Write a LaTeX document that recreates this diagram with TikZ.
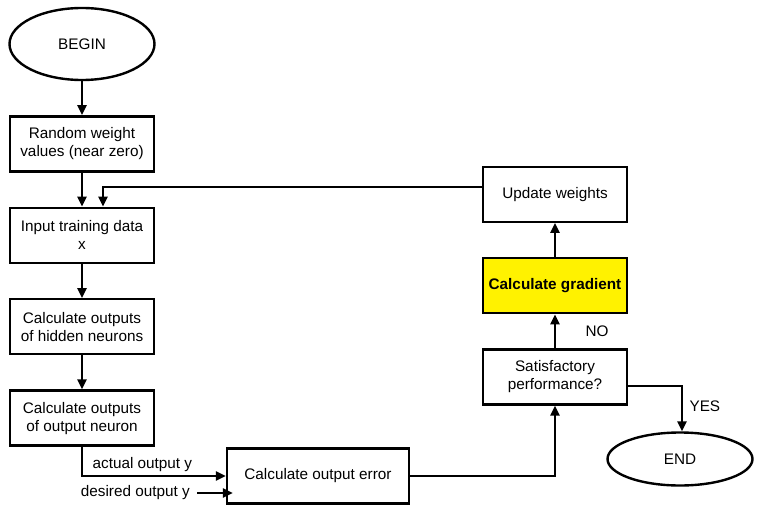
\documentclass[tikz,border=0pt]{standalone}
\usepackage{fontspec}
\setmainfont{Liberation Sans}
\usetikzlibrary{shapes.geometric, arrows.meta, positioning, calc}
\tikzstyle{block} = [rectangle, draw=black, line width=2.4pt, minimum width=144pt, minimum height=55pt, align=center, inner sep=2pt]
\tikzstyle{term} = [ellipse, draw=black, line width=2.4pt, minimum width=145pt, align=center]
\tikzstyle{hot} = [fill=yellow, font=\fontsize{15.3pt}{18pt}\selectfont\bfseries]
\tikzstyle{arrow} = [line width=2.4pt, -{Triangle[length=10pt,width=9pt]}]

\begin{document}
\begin{tikzpicture}[x=1pt, y=-1pt, node distance=34pt, every node/.style={font=\fontsize{15.3pt}{18pt}\selectfont}]
  \useasboundingbox (0,0) rectangle (759,511);

  % Left column
  \node[term, minimum height=72pt] (begin) at (82,44) {BEGIN};
  \node[block, below=of begin] (init) {Random weight\\values (near zero)};
  \node[block, below=of init] (input) {Input training data\\x};
  \node[block, below=of input] (hidden) {Calculate outputs\\of hidden neurons};
  \node[block, below=of hidden] (outn) {Calculate outputs\\of output neuron};

  % Bottom and right column
  \node[block, minimum width=182pt] (error) at (318,476) {Calculate output error};
  \node[block] (sat) at (555,377) {Satisfactory\\performance?};
  \node[block, hot, above=34pt of sat] (grad) {Calculate gradient};
  \node[block, above=34pt of grad] (update) {Update weights};
  \node[term, minimum height=53pt] (end) at (680,459) {END};
  \node[anchor=east, inner sep=0pt] (desired) at (190,493) {desired output y};

  % Connectors
  \draw[arrow] (begin) -- (init);
  \draw[arrow] (init) -- (input);
  \draw[arrow] (input) -- (hidden);
  \draw[arrow] (hidden) -- (outn);
  \draw[arrow] (outn.south) |- node[pos=0.71, above]{actual output y} (error.west);
  \draw[arrow] ([xshift=7pt]desired.east) -- ([xshift=7pt]desired.east -| error.west);
  \draw[arrow] (error.east) -| (sat.south);
  \draw[arrow] (sat) -- node[right=26pt]{NO} (grad);
  \draw[arrow] (grad) -- (update);
  \draw[arrow] ([yshift=7pt]update.west) -| ([xshift=21pt]input.north);
  \draw[arrow] ([yshift=-9pt]sat.east) -| node[pos=0.72, right=3pt]{YES} ([xshift=2pt]end.north);
\end{tikzpicture}
\end{document}
